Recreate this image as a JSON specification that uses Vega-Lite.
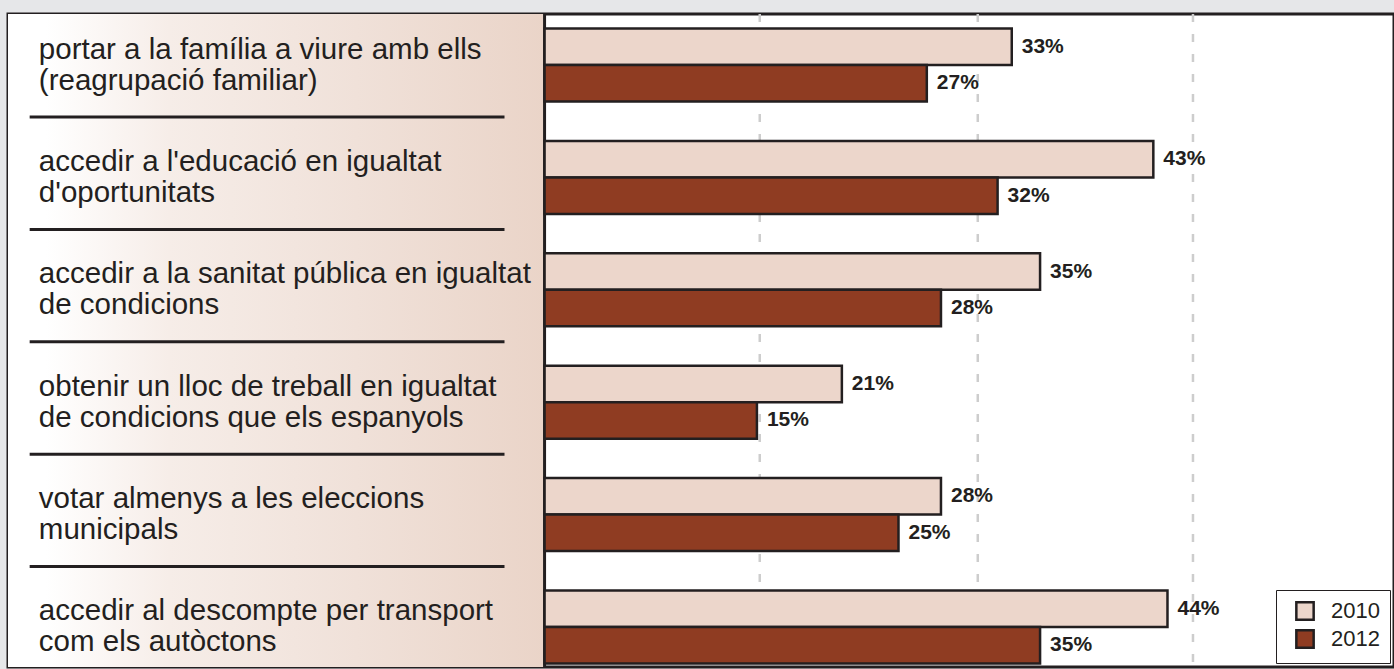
{
  "$schema": "https://vega.github.io/schema/vega-lite/v6.json",
  "width": 1394,
  "height": 669,
  "autosize": {"type": "fit", "contains": "padding"},
  "padding": {"left": 8, "top": 12, "right": 0, "bottom": 0},
  "background": "#e6e7e9",
  "config": {
    "view": {"fill": "white", "stroke": "#231f20", "strokeWidth": 3},
    "font": "Liberation Sans"
  },
  "datasets": {
    "bars": [
      {"item": "portar a la família a viure amb ells (reagrupació familiar)", "year": "2010", "pct": 0.33},
      {"item": "portar a la família a viure amb ells (reagrupació familiar)", "year": "2012", "pct": 0.27},
      {"item": "accedir a l'educació en igualtat d'oportunitats", "year": "2010", "pct": 0.43},
      {"item": "accedir a l'educació en igualtat d'oportunitats", "year": "2012", "pct": 0.32},
      {"item": "accedir a la sanitat pública en igualtat de condicions", "year": "2010", "pct": 0.35},
      {"item": "accedir a la sanitat pública en igualtat de condicions", "year": "2012", "pct": 0.28},
      {"item": "obtenir un lloc de treball en igualtat de condicions que els espanyols", "year": "2010", "pct": 0.21},
      {"item": "obtenir un lloc de treball en igualtat de condicions que els espanyols", "year": "2012", "pct": 0.15},
      {"item": "votar almenys a les eleccions municipals", "year": "2010", "pct": 0.28},
      {"item": "votar almenys a les eleccions municipals", "year": "2012", "pct": 0.25},
      {"item": "accedir al descompte per transport com els autòctons", "year": "2010", "pct": 0.44},
      {"item": "accedir al descompte per transport com els autòctons", "year": "2012", "pct": 0.35}
    ],
    "items": [
      {"item": "portar a la família a viure amb ells (reagrupació familiar)", "lines": ["portar a la família a viure amb ells", "(reagrupació familiar)"]},
      {"item": "accedir a l'educació en igualtat d'oportunitats", "lines": ["accedir a l'educació en igualtat", "d'oportunitats"]},
      {"item": "accedir a la sanitat pública en igualtat de condicions", "lines": ["accedir a la sanitat pública en igualtat", "de condicions"]},
      {"item": "obtenir un lloc de treball en igualtat de condicions que els espanyols", "lines": ["obtenir un lloc de treball en igualtat", "de condicions que els espanyols"]},
      {"item": "votar almenys a les eleccions municipals", "lines": ["votar almenys a les eleccions", "municipals"]},
      {"item": "accedir al descompte per transport com els autòctons", "lines": ["accedir al descompte per transport", "com els autòctons"]}
    ],
    "separators": [
      {"item": "portar a la família a viure amb ells (reagrupació familiar)"},
      {"item": "accedir a l'educació en igualtat d'oportunitats"},
      {"item": "accedir a la sanitat pública en igualtat de condicions"},
      {"item": "obtenir un lloc de treball en igualtat de condicions que els espanyols"},
      {"item": "votar almenys a les eleccions municipals"}
    ],
    "grid": [{"g": 0.152}, {"g": 0.306}, {"g": 0.458}],
    "panel": [{"from": -0.379, "to": 0}]
  },
  "layer": [
    {
      "data": {"name": "panel"},
      "mark": {
        "type": "rect",
        "fill": {
          "gradient": "linear", "x1": 0, "y1": 0, "x2": 1, "y2": 0,
          "stops": [
            {"offset": 0, "color": "#ffffff"},
            {"offset": 0.07, "color": "#ffffff"},
            {"offset": 0.3, "color": "#f6ede8"},
            {"offset": 0.65, "color": "#f0e1d9"},
            {"offset": 1, "color": "#ead4c8"}
          ]
        }
      },
      "encoding": {
        "x": {"field": "from", "type": "quantitative", "axis": null, "scale": {"domain": [-0.379, 0.6], "nice": false, "zero": false}},
        "x2": {"field": "to"}
      }
    },
    {
      "data": {"name": "grid"},
      "mark": {"type": "rule", "stroke": "#cdcdcd", "strokeWidth": 2.5, "strokeDash": [8, 12]},
      "encoding": {
        "x": {"field": "g", "type": "quantitative", "axis": null}
      }
    },
    {
      "data": {"name": "panel"},
      "mark": {"type": "rule", "stroke": "#231f20", "strokeWidth": 3},
      "encoding": {
        "x": {"field": "to", "type": "quantitative", "axis": null}
      }
    },
    {
      "data": {"name": "separators"},
      "mark": {"type": "rule", "stroke": "#231f20", "strokeWidth": 3, "yOffset": 15.5},
      "encoding": {
        "x": {"datum": -0.3637, "type": "quantitative", "axis": null},
        "x2": {"datum": -0.0283},
        "y": {"field": "item", "type": "nominal", "bandPosition": 1, "axis": null}
      }
    },
    {
      "data": {"name": "items"},
      "mark": {"type": "text", "align": "left", "baseline": "middle", "dy": -15.5, "fontSize": 29.5, "lineHeight": 31, "color": "#231f20", "font": "Liberation Sans"},
      "encoding": {
        "x": {"datum": -0.3572, "type": "quantitative", "axis": null},
        "y": {"field": "item", "type": "nominal", "axis": null},
        "text": {"field": "lines", "type": "nominal"}
      }
    },
    {
      "data": {"name": "bars"},
      "mark": {"type": "bar", "stroke": "#231f20", "strokeWidth": 2.5},
      "encoding": {
        "x": {"field": "pct", "type": "quantitative", "axis": null},
        "y": {
          "field": "item", "type": "nominal", "axis": null,
          "scale": {
            "domain": [
              "portar a la família a viure amb ells (reagrupació familiar)",
              "accedir a l'educació en igualtat d'oportunitats",
              "accedir a la sanitat pública en igualtat de condicions",
              "obtenir un lloc de treball en igualtat de condicions que els espanyols",
              "votar almenys a les eleccions municipals",
              "accedir al descompte per transport com els autòctons"
            ],
            "range": [14.5, 649.5], "paddingInner": 0.35, "paddingOuter": 0
          }
        },
        "yOffset": {"field": "year", "type": "nominal", "scale": {"paddingInner": 0, "paddingOuter": 0}},
        "color": {
          "field": "year", "type": "nominal",
          "scale": {"domain": ["2010", "2012"], "range": ["#ecd6cb", "#8f3c22"]},
          "legend": {
            "orient": "none", "legendX": 1268, "legendY": 576, "title": null,
            "symbolType": "square", "symbolSize": 300,
            "symbolStrokeColor": "#231f20", "symbolStrokeWidth": 2.5,
            "labelFontSize": 22, "labelFont": "Liberation Sans", "labelColor": "#231f20",
            "strokeColor": "#231f20", "fillColor": "white", "padding": 10,
            "symbolOffset": 8, "rowPadding": 0, "labelOffset": 15
          }
        }
      }
    },
    {
      "data": {"name": "bars"},
      "mark": {"type": "text", "align": "left", "baseline": "middle", "dx": 10, "fontSize": 21, "fontWeight": "bold", "color": "#231f20", "font": "Liberation Sans"},
      "encoding": {
        "x": {"field": "pct", "type": "quantitative", "axis": null},
        "y": {"field": "item", "type": "nominal", "axis": null},
        "yOffset": {"field": "year", "type": "nominal"},
        "text": {"field": "pct", "type": "quantitative", "format": ".0%"}
      }
    }
  ]
}
